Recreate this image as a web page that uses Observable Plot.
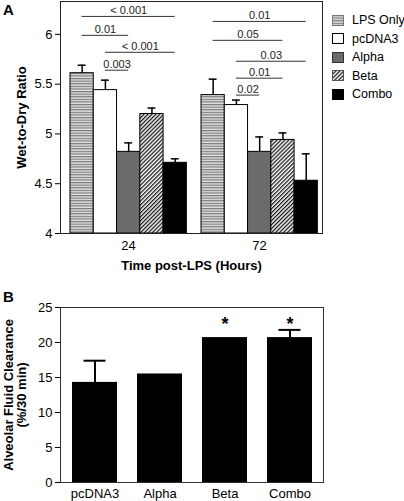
<!DOCTYPE html>
<html>
<head>
<meta charset="utf-8">
<script src="https://cdn.jsdelivr.net/npm/d3@7"></script>
<script src="https://cdn.jsdelivr.net/npm/@observablehq/plot@0.6"></script>
<style>
  body { margin: 0; background: #fff; }
  #root { position: relative; width: 404px; height: 501px; overflow: hidden; font-family: "Liberation Sans", Arial, sans-serif; color: #000; }
  .panel { position: absolute; left: 0; }
  .tag { position: absolute; left: 3px; font-weight: bold; font-size: 15px; line-height: 1; }
  #legend { position: absolute; left: 332px; top: 11px; font-size: 12.5px; line-height: 1; white-space: nowrap; }
  .row { display: flex; align-items: center; height: 18.5px; white-space: nowrap; }
  .row svg { margin-right: 8px; flex: none; }
</style>
</head>
<body>
<div id="root">
  <svg width="0" height="0" style="position:absolute">
    <defs>
      <pattern id="patLps" width="4" height="2.6" patternUnits="userSpaceOnUse">
        <rect width="4" height="2.6" fill="#e2e2e2"></rect>
        <rect y="0" width="4" height="1.2" fill="#7a7a7a"></rect>
      </pattern>
      <pattern id="patBeta" width="2.8" height="2.8" patternUnits="userSpaceOnUse" patternTransform="rotate(45)">
        <rect width="2.8" height="2.8" fill="#ffffff"></rect>
        <rect width="1.3" height="2.8" fill="#1a1a1a"></rect>
      </pattern>
    </defs>
  </svg>
</div>
<script>
// ---------- Panel A data ----------
const series = ["LPS Only", "pcDNA3", "Alpha", "Beta", "Combo"];
const seriesFill = ["url(#patLps)", "#ffffff", "#6b6b6b", "url(#patBeta)", "#000000"];
const times = ["24", "72"];
const ratio24 = [5.61, 5.44, 4.82, 5.20, 4.71];
const err24   = [0.08, 0.10, 0.09, 0.06, 0.04];
const ratio72 = [5.39, 5.29, 4.82, 4.94, 4.53];
const err72   = [0.16, 0.05, 0.15, 0.07, 0.27];
const yTicksA = [4, 4.5, 5, 5.5, 6];

// significance brackets (panel A)
const bracketTime  = ["24", "24", "24", "24", "72", "72", "72", "72", "72"];
const bracketFrom  = ["LPS Only", "LPS Only", "pcDNA3", "pcDNA3", "LPS Only", "LPS Only", "pcDNA3", "pcDNA3", "pcDNA3"];
const bracketTo    = ["Combo", "Alpha", "Combo", "Alpha", "Combo", "Beta", "Combo", "Beta", "Alpha"];
const bracketLevel = [6.18, 5.99, 5.82, 5.64, 6.13, 5.94, 5.73, 5.56, 5.39];
const bracketP     = ["< 0.001", "0.01", "< 0.001", "0.003", "0.01", "0.05", "0.03", "0.01", "0.02"];

// ---------- Panel B data ----------
const groupsB = ["pcDNA3", "Alpha", "Beta", "Combo"];
const afc     = [14.3, 15.5, 20.7, 20.7];
const afcErr  = [3.1, 0, 0, 1.1];
const afcSig  = [false, false, true, true];
const yTicksB = [0, 5, 10, 15, 20, 25];

// ---------- build tables ----------
const rowsA = [];
times.forEach((t, ti) => {
  const vals = ti === 0 ? ratio24 : ratio72;
  const errs = ti === 0 ? err24 : err72;
  series.forEach((s, si) => rowsA.push({time: t, series: s, idx: si, value: vals[si], err: errs[si]}));
});
const brackets = bracketTime.map((t, i) => ({
  time: t,
  from: series.indexOf(bracketFrom[i]),
  to: series.indexOf(bracketTo[i]),
  level: bracketLevel[i],
  p: bracketP[i]
}));
const rowsB = groupsB.map((g, i) => ({group: g, value: afc[i], err: afcErr[i], sig: afcSig[i]}));

const font = '"Liberation Sans", Arial, sans-serif';
const root = document.getElementById("root");

function boldLabels(svg) {
  svg.querySelectorAll('[aria-label$="axis label"]').forEach(g => {
    g.setAttribute("font-weight", "bold");
    g.setAttribute("font-size", "13");
  });
}

// ---------- Panel A ----------
const chartA = Plot.plot({
  width: 404,
  height: 275,
  marginLeft: 60,
  marginRight: 82,
  marginTop: 1,
  marginBottom: 42,
  style: {fontFamily: font, fontSize: "13px", color: "#000", background: "transparent", overflow: "visible"},
  fx: {domain: times, padding: 0},
  x: {domain: [-0.43, 5.2], axis: null},
  y: {domain: [4, 6.33]},
  color: {domain: series, range: seriesFill},
  marks: [
    Plot.rectY(rowsA, {fx: "time", x1: "idx", x2: d => d.idx + 1, y1: 4, y2: "value", fill: "series", stroke: "#000", strokeWidth: 1}),
    Plot.ruleX(rowsA, {fx: "time", x: d => d.idx + 0.5, y1: "value", y2: d => d.value + d.err, stroke: "#000", strokeWidth: 1.5}),
    Plot.ruleY(rowsA, {fx: "time", x1: d => d.idx + 0.33, x2: d => d.idx + 0.67, y: d => d.value + d.err, stroke: "#000", strokeWidth: 1.5}),
    Plot.ruleY(brackets, {fx: "time", x1: d => d.from + 0.5, x2: d => d.to + 0.5, y: "level", stroke: "#333", strokeWidth: 1}),
    Plot.text(brackets, {fx: "time", x: d => (d.from + d.to) / 2 + 0.5, y: "level", text: "p", lineAnchor: "bottom", dy: -2, fontSize: 11, fill: "#222"}),
    Plot.frame({facet: "super", stroke: "#222"}),
    Plot.axisY({ticks: yTicksA, tickSize: 5, tickPadding: 3, tickFormat: d => String(d),
      label: "Wet-to-Dry Ratio", labelAnchor: "center", labelArrow: "none", labelOffset: 44}),
    Plot.axisFx({anchor: "bottom", tickSize: 0, tickPadding: 7, dx: 2.5,
      label: "Time post-LPS (Hours)", labelAnchor: "center", labelArrow: "none", labelOffset: 36})
  ]
});
boldLabels(chartA);
chartA.classList.add("panel");
chartA.style.top = "0px";
root.appendChild(chartA);

// ---------- Panel B ----------
const starLevel = 22.6;
const chartB = Plot.plot({
  width: 404,
  height: 216,
  marginLeft: 60,
  marginRight: 81,
  marginTop: 22,
  marginBottom: 19,
  style: {fontFamily: font, fontSize: "13px", color: "#000", background: "transparent", overflow: "visible"},
  x: {domain: groupsB, paddingInner: 0.31, paddingOuter: 0.16},
  y: {domain: [0, 25]},
  marks: [
    Plot.barY(rowsB, {x: "group", y: "value", fill: "#000"}),
    Plot.ruleX(rowsB.filter(d => d.err > 0), {x: "group", y1: "value", y2: d => d.value + d.err, stroke: "#000", strokeWidth: 2}),
    Plot.tickY(rowsB.filter(d => d.err > 0), {x: "group", y: d => d.value + d.err, inset: 11.5, stroke: "#000", strokeWidth: 2}),
    Plot.text(rowsB.filter(d => d.sig), {x: "group", y: () => starLevel, text: () => "*", fontSize: 18, fontWeight: "bold"}),
    Plot.frame({stroke: "#333"}),
    Plot.axisY({ticks: yTicksB, tickSize: 5, tickPadding: 3, tickFormat: d => String(d),
      label: "Alveolar Fluid Clearance\n(%/30 min)", labelAnchor: "center", labelArrow: "none", labelOffset: 57}),
    Plot.axisX({tickSize: 0, tickPadding: 6, label: null})
  ]
});
boldLabels(chartB);
chartB.classList.add("panel");
chartB.style.top = "285px";
root.appendChild(chartB);

// ---------- panel tags ----------
[["A", 2], ["B", 289]].forEach(([t, top]) => {
  const d = document.createElement("div");
  d.className = "tag";
  d.style.top = top + "px";
  d.textContent = t;
  root.appendChild(d);
});

// ---------- legend ----------
const legend = document.createElement("div");
legend.id = "legend";
const strokes = ["#777", "#000", "#333", "#555", "#000"];
series.forEach((s, i) => {
  const row = document.createElement("div");
  row.className = "row";
  row.innerHTML = `<svg width="12" height="11"><rect x="0.5" y="0.5" width="11" height="10" fill="${seriesFill[i]}" stroke="${strokes[i]}" stroke-width="1"></rect></svg><span>${s}</span>`;
  legend.appendChild(row);
});
root.appendChild(legend);
</script>
</body>
</html>
